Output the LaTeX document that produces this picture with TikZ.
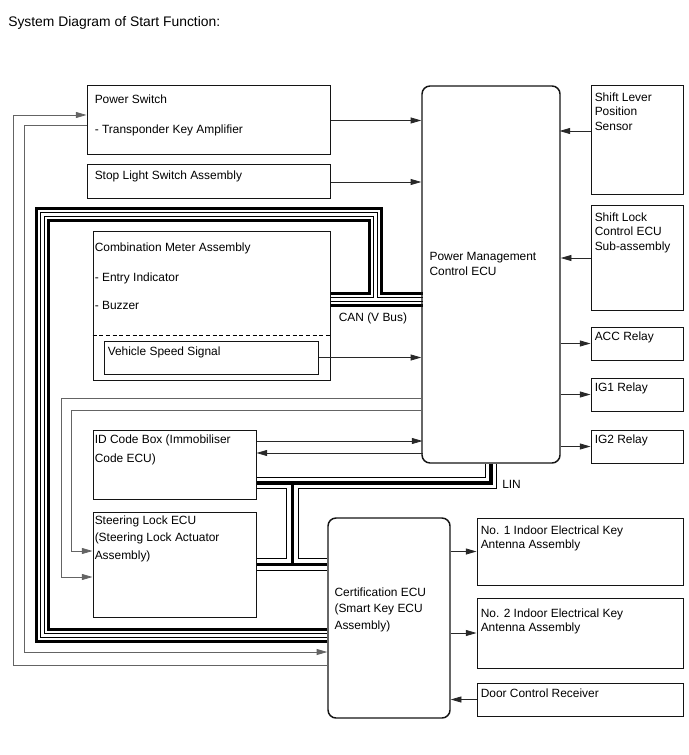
\documentclass[tikz,border=0pt]{standalone}
\usepackage{fontspec}
\setmainfont{Liberation Sans}
\usetikzlibrary{arrows.meta,calc,fit,backgrounds}
\begin{document}
\begin{tikzpicture}[x=0.75pt,y=-0.75pt]
	\tikzstyle{every node}=[font=\fontsize{8.95pt}{10.9pt}\selectfont]
	\tikzstyle{box}=[draw={rgb,255:red,20; green,20; blue,20}, line width=0.75pt, inner sep=0pt]
	\tikzstyle{ecu}=[box, line width=1.1pt, rounded corners=6pt]
	\tikzstyle{txt}=[anchor=north west, inner sep=0pt, align=left]
	\tikzstyle{arr}=[draw={rgb,255:red,40; green,40; blue,40}, line width=0.6pt, -{Triangle[length=8pt,width=4.5pt]}]
	\tikzstyle{wire}=[arr, draw={rgb,255:red,100; green,100; blue,100}]
	
	\useasboundingbox (0,0) rectangle (688,755);
	\node[txt, font=\fontsize{10.4pt}{12pt}\selectfont] (title) at (8,16) {System Diagram of Start Function:};
	
	% left column
	\node[box, fit={(87,86) (330,155)}] (psw) {};
	\node[box, fit={(87,165) (330,199)}] (sls) {};
	\node[box, fit={(93,232) (330,380)}] (cmb) {};
	\node[box, fit={(104,341) (318,374)}] (vss) {};
	\node[box, fit={(93,430) (256,499)}] (idb) {};
	\node[box, fit={(93,512) (256,617)}] (stl) {};
	
	% ECUs
	\node[ecu, fit={(422,86) (560,463)}] (pmc) {};
	\node[ecu, fit={(328,518) (450,718)}] (cert) {};
	
	% right column
	\node[box, fit={(591,86) (683,195)}] (slp) {};
	\node[box, fit={(591,206) (683,310)}] (slk) {};
	\node[box, fit={(591,327) (683,360)}] (acc) {};
	\node[box, fit={(591,378) (683,411)}] (ig1) {};
	\node[box, fit={(591,430) (683,463)}] (ig2) {};
	\node[box, fit={(477,518) (683,585)}] (ant1) {};
	\node[box, fit={(477,598) (683,668)}] (ant2) {};
	\node[box, fit={(477,683) (683,716)}] (dcr) {};
	
	% texts
	\node[txt] (psw-t1) at ($(psw.north west)+(8,9)$) {Power Switch};
	\node[txt] (psw-t2) at ($(psw.north west)+(8,39)$) {- Transponder Key Amplifier};
	\node[txt] (sls-t) at ($(sls.north west)+(8,6)$) {Stop Light Switch Assembly};
	\node[txt] (cmb-t1) at ($(cmb.north west)+(2,11)$) {Combination Meter Assembly};
	\node[txt] (cmb-t2) at ($(cmb.north west)+(2,41)$) {- Entry Indicator};
	\node[txt] (cmb-t3) at ($(cmb.north west)+(2,70)$) {- Buzzer};
	\node[txt] (vss-t) at ($(vss.north west)+(4,6)$) {Vehicle Speed Signal};
	\node[txt, font=\fontsize{8.95pt}{14pt}\selectfont] (idb-t) at ($(idb.north west)+(2,5)$) {ID Code Box (Immobiliser\\Code ECU)};
	\node[txt, font=\fontsize{8.95pt}{13pt}\selectfont] (stl-t) at ($(stl.north west)+(2,4)$) {Steering Lock ECU\\(Steering Lock Actuator\\Assembly)};
	\node[txt, font=\fontsize{8.95pt}{11.2pt}\selectfont] (pmc-t) at ($(pmc.north west)+(8,167)$) {Power Management\\Control ECU};
	\node[txt, font=\fontsize{8.95pt}{12.4pt}\selectfont] (cert-t) at ($(cert.north west)+(7,70)$) {Certification ECU\\(Smart Key ECU\\Assembly)};
	\node[txt] (slp-t) at ($(slp.north west)+(4,7)$) {Shift Lever\\Position\\Sensor};
	\node[txt] (slk-t) at ($(slk.north west)+(4,7)$) {Shift Lock\\Control ECU\\Sub-assembly};
	\node[txt] (acc-t) at ($(acc.north west)+(4,5)$) {ACC Relay};
	\node[txt] (ig1-t) at ($(ig1.north west)+(4,5)$) {IG1 Relay};
	\node[txt] (ig2-t) at ($(ig2.north west)+(4,5)$) {IG2 Relay};
	\node[txt] (ant1-t) at ($(ant1.north west)+(4,8)$) {No. 1 Indoor Electrical Key\\Antenna Assembly};
	\node[txt] (ant2-t) at ($(ant2.north west)+(4,11)$) {No. 2 Indoor Electrical Key\\Antenna Assembly};
	\node[txt] (dcr-t) at ($(dcr.north west)+(4,6)$) {Door Control Receiver};
	\node[txt] (can-t) at ($(cmb.east)+(8,7)$) {CAN (V Bus)};
	\node[txt] (lin-t) at ($(pmc.south)+(11,16)$) {LIN};
	
	\draw[dash pattern=on 3pt off 2pt, line width=0.75pt] ($(cmb.west)+(0,29)$) -- ($(cmb.east)+(0,29)$);
	
	% buses
	\begin{scope}[on background layer]
		\foreach \lw/\lc in {11.25pt/black, 6.75pt/white, 3.75pt/black, 2.25pt/white} {
			\draw[line width=\lw, draw=\lc, line join=miter] ($(cert.west)+(0,17)$) -- ++(-285,0) -- ++(0,-420) -- ++(333,0) -- ++(0,84);
			\draw[line width=\lw, draw=\lc] ($(cmb.east)+(0,-7)$) -- ($(cmb.east)+(92,-7)$);
		}
		\coordinate (linT) at ($(idb.east)+(36,18.5)$);
		\foreach \lw/\lc in {9.4pt/black, 7.9pt/white, 2.6pt/black} {
			\draw[line width=\lw, draw=\lc, line join=miter] (pmc.south) |- ($(idb.east)+(0,18.5)$);
			\draw[line width=\lw, draw=\lc] (linT) -- (linT |- stl.east);
			\draw[line width=\lw, draw=\lc] (stl.east) -- (stl.east -| cert.west);
		}
	\end{scope}
	
	% signals to the power management ECU
	\draw[arr] (psw.east) -- (psw.east -| pmc.west);
	\draw[arr] (sls.east) -- (sls.east -| pmc.west);
	\draw[arr] (vss.east) -- (vss.east -| pmc.west);
	\draw[arr] ($(slp.west)+(0,-9.5)$) -- ($(slp.west)+(-31,-9.5)$);
	\draw[arr] (slk.west) -- (slk.west -| pmc.east);
	\draw[arr] (acc.west -| pmc.east) -- (acc.west);
	\draw[arr] (ig1.west -| pmc.east) -- (ig1.west);
	\draw[arr] (ig2.west -| pmc.east) -- (ig2.west);
	\draw[arr] ($(idb.east)+(0,-23.5)$) -- ($(idb.east)+(166,-23.5)$);
	\draw[arr] ($(idb.east)+(166,-11.5)$) -- ($(idb.east)+(0,-11.5)$);
	
	% certification ECU
	\draw[arr] (ant1.west -| cert.east) -- (ant1.west);
	\draw[arr] (ant2.west -| cert.east) -- (ant2.west);
	\draw[arr] (dcr.west) -- (dcr.west -| cert.east);
	
	% thin wires round the left side
	\draw[wire] ($(cert.west)+(0,47)$) -- ++(-314,0) |- ($(psw.west)+(0,-5.5)$);
	\draw[wire] ($(psw.west)+(0,4.5)$) -- ++(-62,0) |- ($(cert.west)+(0,34)$);
	\draw[wire] ($(pmc.west)+(0,123.5)$) -- ++(-360,0) |- ($(stl.west)+(0,12.5)$);
	\draw[wire] ($(pmc.west)+(0,135.5)$) -- ++(-350,0) |- ($(stl.west)+(0,-13.5)$);
	
\end{tikzpicture}
\end{document}
